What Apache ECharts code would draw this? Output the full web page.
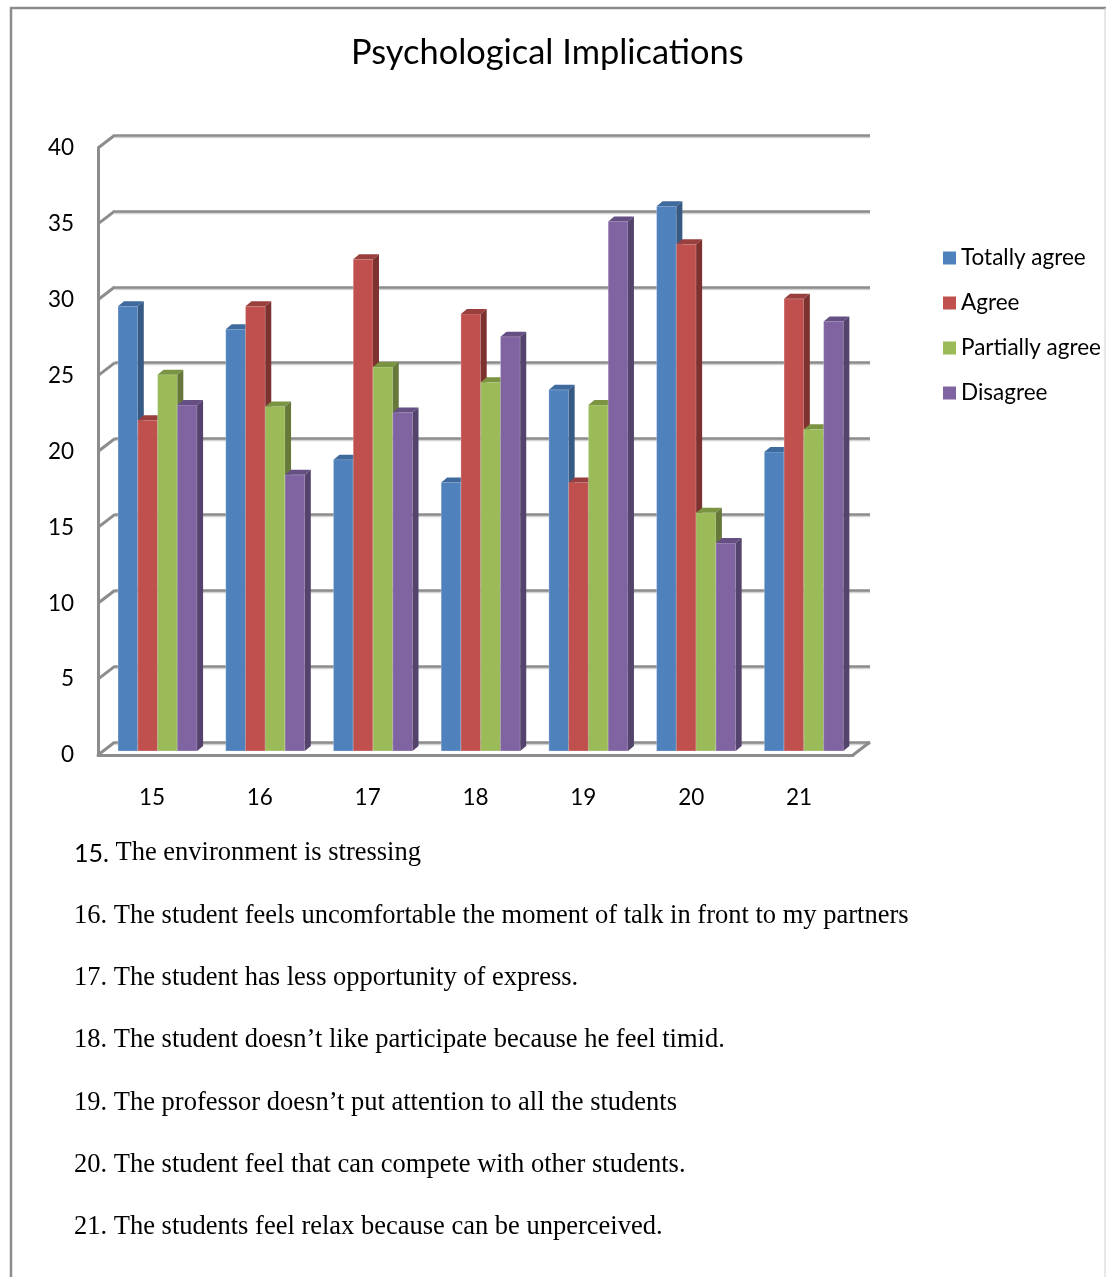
<!DOCTYPE html>
<html>
<head>
<meta charset="utf-8">
<title>Psychological Implications</title>
<script src="https://cdn.jsdelivr.net/npm/echarts@6/dist/echarts.min.js"></script>
<style>
  html, body { margin: 0; padding: 0; background: #ffffff; }
  #chart { width: 1106px; height: 1277px; }
</style>
</head>
<body>
<div id="chart"></div>
<script>
// Survey items and response shares
const categories = ['15', '16', '17', '18', '19', '20', '21'];
const seriesNames = ['Totally agree', 'Agree', 'Partially agree', 'Disagree'];
const totallyAgree   = [29.3, 27.8, 19.2, 17.7, 23.8, 35.9, 19.7];
const agree          = [21.8, 29.3, 32.4, 28.8, 17.7, 33.4, 29.8];
const partiallyAgree = [24.8, 22.7, 25.3, 24.3, 22.8, 15.7, 21.2];
const disagree       = [22.8, 18.2, 22.3, 27.3, 34.9, 13.7, 28.3];
const yTicks = [0, 5, 10, 15, 20, 25, 30, 35, 40];
const notes = [
  ['15.', ' The environment is stressing'],
  ['16.', ' The student feels uncomfortable the moment of talk in front to my partners'],
  ['17.', ' The student has less opportunity of express.'],
  ['18.', ' The student doesn\u2019t like participate because he feel timid.'],
  ['19.', ' The professor doesn\u2019t put attention to all the students'],
  ['20.', ' The student feel that can compete with other students.'],
  ['21.', ' The students feel relax because can be unperceived.']
];

const allValues = [totallyAgree, agree, partiallyAgree, disagree];

// face colours: front, top, side
const palette = [
  ['#4F81BD', '#3E6A9E', '#375A85'],
  ['#C0504D', '#993F3D', '#7E3230'],
  ['#9BBB59', '#7A9442', '#66793A'],
  ['#8064A2', '#654F83', '#54436C']
];

// oblique depth of the box (back wall vs front edge) and of each bar
const WALL_DX = 17, WALL_DY = 13;
const BAR_DX = 6, BAR_DY = 5;
const CLUSTER = 0.734;

const chart = echarts.init(document.getElementById('chart'), null, { renderer: 'canvas' });

function barRenderer(k) {
  return function (params, api) {
    const cat = api.value(0);
    const val = api.value(1);
    const top = api.coord([cat, val]);
    const base = api.coord([cat, 0]);
    const band = api.size([1, 0])[0];
    const cw = band * CLUSTER;
    const w = cw / 4;
    const x = top[0] - cw / 2 + k * w;
    const yT = top[1], yB = base[1];
    const c = palette[k];
    return {
      type: 'group',
      children: [
        { type: 'rect', shape: { x: x, y: yT, width: w, height: yB - yT },
          style: { fill: c[0], stroke: 'rgba(255,255,255,0.25)', lineWidth: 1 } },
        { type: 'polygon', shape: { points: [[x, yT], [x + BAR_DX, yT - BAR_DY], [x + w + BAR_DX, yT - BAR_DY], [x + w, yT]] },
          style: { fill: c[1] } },
        { type: 'polygon', shape: { points: [[x + w, yT], [x + w + BAR_DX, yT - BAR_DY], [x + w + BAR_DX, yB - BAR_DY], [x + w, yB]] },
          style: { fill: c[2] } }
      ]
    };
  };
}

// side-wall connectors and right floor edge, drawn from the front grid
function wallRenderer(params, api) {
  const v = api.value(1);
  const cs = params.coordSys;
  const y = api.coord([0, v])[1];
  const children = [{
    type: 'line',
    shape: { x1: cs.x, y1: y, x2: cs.x + WALL_DX, y2: y - WALL_DY },
    style: { stroke: '#8c8c8c', lineWidth: 3 }
  }];
  if (v === 0) {
    children.push({
      type: 'line',
      shape: { x1: cs.x + cs.width, y1: y, x2: cs.x + cs.width + WALL_DX, y2: y - WALL_DY },
      style: { stroke: '#8c8c8c', lineWidth: 3 }
    });
  }
  return { type: 'group', children: children };
}

const gridLine = { color: '#8c8c8c', width: 2.5, shadowColor: '#d4d4d4', shadowOffsetY: 1.5, shadowBlur: 0 };

const series = [
  {
    type: 'custom',
    name: 'walls',
    xAxisIndex: 1, yAxisIndex: 1,
    renderItem: wallRenderer,
    data: yTicks.map(function (t) { return [0, t]; }),
    silent: true,
    z: 1
  }
];

seriesNames.forEach(function (name, k) {
  series.push({
    type: 'custom',
    name: name,
    xAxisIndex: 2, yAxisIndex: 2,
    color: palette[k][0],
    renderItem: barRenderer(k),
    data: allValues[k].map(function (v, i) { return [i, v]; }),
    z: 3 + k
  });
});

const noteTop = 853.5, noteStep = 62.3;
const graphics = [
  { type: 'line', shape: { x1: 11, y1: 7, x2: 11, y2: 1277 }, style: { stroke: '#8c8c8c', lineWidth: 2.5 } },
  { type: 'line', shape: { x1: 10, y1: 8, x2: 1106, y2: 8 }, style: { stroke: '#8c8c8c', lineWidth: 2.5 } },
  { type: 'line', shape: { x1: 1105, y1: 8, x2: 1105, y2: 1277 }, style: { stroke: '#d0d0d0', lineWidth: 1 } }
];
notes.forEach(function (n, i) {
  const first = i === 0;
  graphics.push({
    type: 'text',
    x: 74,
    y: noteTop + i * noteStep,
    style: {
      text: '{n|' + n[0] + '}{t|' + n[1] + '}',
      verticalAlign: 'middle',
      rich: {
        n: first ? { fontFamily: 'Lato', fontSize: 25, fill: '#000', color: '#000' }
                 : { fontFamily: 'Liberation Serif', fontSize: 26.5, fill: '#000', color: '#000' },
        t: { fontFamily: 'Liberation Serif', fontSize: 26.5, fill: '#000', color: '#000' }
      }
    }
  });
});

const option = {
  backgroundColor: '#ffffff',
  animation: false,
  title: {
    text: 'Psychological Implications',
    left: 346,
    top: 31,
    textStyle: { fontFamily: 'Lato', fontSize: 34.4, fontWeight: 'normal', color: '#000' }
  },
  legend: {
    orient: 'vertical',
    left: 938,
    top: 240,
    itemWidth: 13,
    itemHeight: 13,
    itemGap: 19,
    icon: 'rect',
    data: seriesNames,
    textStyle: { fontFamily: 'Lato', fontSize: 22.5, color: '#000', lineHeight: 26 }
  },
  grid: [
    // back wall
    { left: 115, top: 135, width: 755, height: 607 },
    // front edge (axis labels, floor front line)
    { left: 98, top: 148, width: 755, height: 607 },
    // plane of the bar fronts
    { left: 103.7, top: 144, width: 754, height: 607 }
  ],
  xAxis: [
    { gridIndex: 0, type: 'category', data: categories, axisLine: { show: false }, axisTick: { show: false }, axisLabel: { show: false } },
    { gridIndex: 1, type: 'category', data: categories,
      axisLine: { show: true, lineStyle: { color: '#8c8c8c', width: 3 } },
      axisTick: { show: false },
      axisLabel: { show: true, margin: 31, fontFamily: 'Lato', fontSize: 22.5, color: '#000' } },
    { gridIndex: 2, type: 'category', data: categories, axisLine: { show: false }, axisTick: { show: false }, axisLabel: { show: false } }
  ],
  yAxis: [
    { gridIndex: 0, type: 'value', min: 0, max: 40, interval: 5,
      axisLine: { show: false }, axisTick: { show: false }, axisLabel: { show: false },
      splitLine: { show: true, lineStyle: gridLine } },
    { gridIndex: 1, type: 'value', min: 0, max: 40, interval: 5,
      axisLine: { show: true, lineStyle: { color: '#8c8c8c', width: 3 } },
      axisTick: { show: false },
      axisLabel: { show: true, margin: 24, fontFamily: 'Lato', fontSize: 22.5, color: '#000' },
      splitLine: { show: false } },
    { gridIndex: 2, type: 'value', min: 0, max: 40, interval: 5,
      axisLine: { show: false }, axisTick: { show: false }, axisLabel: { show: false },
      splitLine: { show: false } }
  ],
  series: series,
  graphic: graphics
};

chart.setOption(option);
</script>
</body>
</html>
